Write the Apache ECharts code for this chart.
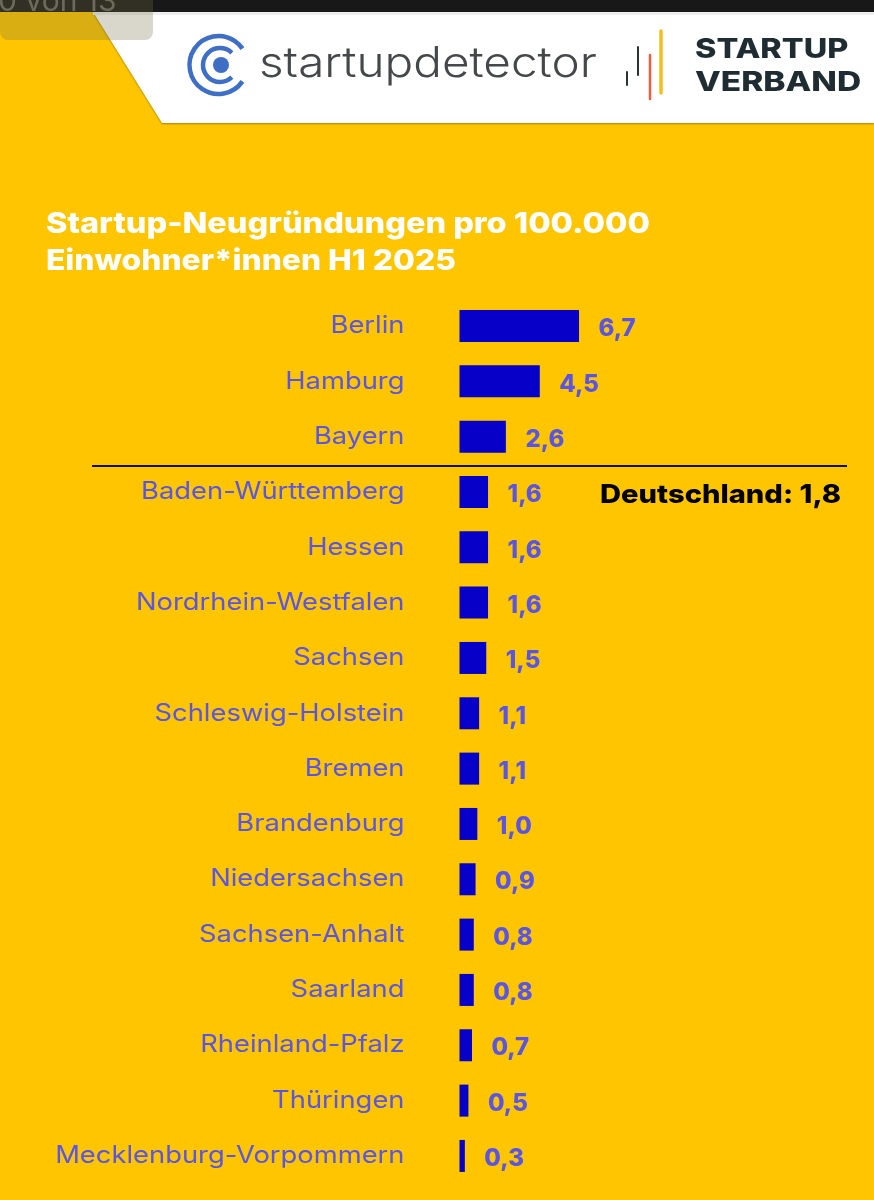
<!DOCTYPE html>
<html><head><meta charset="utf-8">
<style>html,body{margin:0;padding:0;background:#FFC600}#c{width:874px;height:1200px}</style>
<script src="https://cdn.jsdelivr.net/npm/echarts@6/dist/echarts.min.js"></script>
</head><body><div id="c"></div>
<script>
const categories = ["Berlin","Hamburg","Bayern","Baden-Württemberg","Hessen","Nordrhein-Westfalen","Sachsen","Schleswig-Holstein","Bremen","Brandenburg","Niedersachsen","Sachsen-Anhalt","Saarland","Rheinland-Pfalz","Thüringen","Mecklenburg-Vorpommern"];
const values = [6.7,4.5,2.6,1.6,1.6,1.6,1.5,1.1,1.1,1.0,0.9,0.8,0.8,0.7,0.5,0.3];
const titleLines = ["Startup-Neugründungen pro 100.000","Einwohner*innen H1 2025"];
const note = "Deutschland: 1,8";
const FONT = "Inter, 'Noto Sans', sans-serif";
const BLUE = "#0600C8", TXT = "#5B55E2";
const logoBlue = "#3F6FC4";
const txt = (x,y,text,size,weight,fill,sx) => ({type:'text',x,y,originX:0,originY:0,scaleX:sx||1,z:20,silent:true,style:{text,fontSize:size,fontWeight:weight,fontFamily:FONT,fill,verticalAlign:'middle'}});
const arc = (cx,r,a,b,w) => ({type:'arc',z:20,silent:true,shape:{cx,cy:65,r,startAngle:a,endAngle:b,clockwise:true},style:{stroke:logoBlue,lineWidth:w,fill:null}});
const vline = (x,y1,y2,c,w) => ({type:'line',z:20,silent:true,shape:{x1:x,y1,x2:x,y2},style:{stroke:c,lineWidth:w,lineCap:'round'}});
const chart = echarts.init(document.getElementById('c'),null,{renderer:'canvas'});
chart.setOption({
  backgroundColor:'#FFC600',animation:false,
  grid:{left:459.5,top:298.3,width:178.4,height:885.3,containLabel:false},
  xAxis:{type:'value',min:0,max:10,show:false},
  yAxis:{type:'category',inverse:true,data:categories,axisLine:{show:false},axisTick:{show:false},axisLabel:{show:false}},
  series:[
   {type:'bar',data:values,barWidth:32,itemStyle:{color:BLUE},
    label:{show:true,position:'right',distance:19.5,offset:[0,3],fontFamily:FONT,fontSize:24,fontWeight:800,color:TXT,
      formatter:p=>p.value.toFixed(1).replace('.',',')}},
   {type:'custom',silent:true,clip:false,data:categories.map((c,i)=>[0,i]),encode:{x:0,y:1},
    renderItem:(params,api)=>{
      const p=api.coord([0,api.value(1)]);
      return {type:'text',x:p[0]-55,y:p[1],originX:0,originY:0,scaleX:1.14,
        style:{text:categories[params.dataIndex],fontSize:24,fontWeight:400,fontFamily:FONT,fill:TXT,align:'right',verticalAlign:'middle'}};
    }}
  ],
  graphic:[
    {type:'polygon',z:10,silent:true,shape:{points:[[93,12],[874,12],[874,123],[162,123]]},style:{fill:'#fff',shadowColor:'rgba(0,0,0,.35)',shadowBlur:2,shadowOffsetY:1}},
    {type:'rect',z:11,silent:true,shape:{x:93,y:12,width:781,height:3},style:{fill:'#eeeeee'}},
    {type:'rect',z:11,silent:true,shape:{x:0,y:0,width:874,height:12},style:{fill:'#181818'}},
    {type:'rect',z:12,silent:true,shape:{x:0,y:-10,width:153,height:50,r:8},style:{fill:'rgba(120,110,70,.28)'}},
    txt(-2,2,"0 von 13",30,400,'#6d6a5c'),
    arc(218.5,29,0.6,Math.PI*2-0.6,4.5),
    arc(220,17,0.8,Math.PI*2-0.8,4.5),
    {type:'circle',z:20,silent:true,shape:{cx:221,cy:65,r:8},style:{fill:logoBlue}},
    txt(259,64,"startupdetector",42,300,'#45474a',1.135),
    vline(661,31,93,'#F5BE1E',3.5),
    vline(650,55,99,'#E8603C',2.5),
    vline(638,47,75,'#2a3238',2),
    vline(627,72,85,'#2a3238',2),
    txt(695,50,"STARTUP",27,800,'#1F2D33',1.2),
    txt(695,83,"VERBAND",27,800,'#1F2D33',1.24),
    txt(46,224,titleLines[0],29,800,'#fff',1.12),
    txt(46,261,titleLines[1],29,800,'#fff',1.095),
    {type:'line',z:20,silent:true,shape:{x1:92,y1:466,x2:847,y2:466},style:{stroke:'#111',lineWidth:2}},
    txt(600,495,note,26,800,'#000',1.12)
  ]
});
</script></body></html>
